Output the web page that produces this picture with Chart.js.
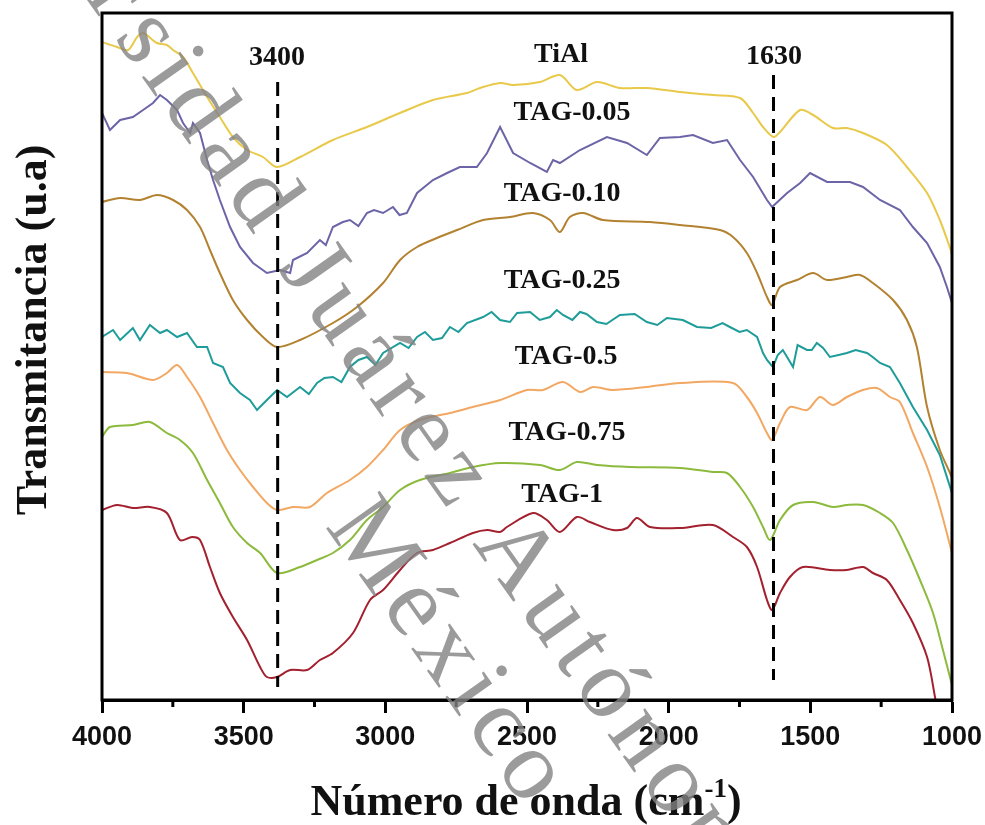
<!DOCTYPE html>
<html>
<head>
<meta charset="utf-8">
<script src="https://cdn.jsdelivr.net/npm/chart.js@4"></script>
<style>
  html, body { margin: 0; padding: 0; background: #fff; }
  #ftir { display: block; }
</style>
</head>
<body>
<canvas id="ftir" width="985" height="825"></canvas>
<script>
// ---- FTIR spectra (transmittance, arbitrary units, offset per sample) ----
const tialWn = [4000, 3947, 3908, 3876, 3855, 3806, 3771, 3749, 3714, 3679, 3629, 3584, 3538, 3488, 3432, 3382, 3301, 3185, 3065, 2948, 2832, 2712, 2666, 2595, 2549, 2454, 2384, 2324, 2253, 2172, 2077, 1960, 1844, 1748, 1702, 1667, 1630, 1607, 1536, 1490, 1420, 1371, 1314, 1230, 1159, 1088, 1043, 1007, 1000];
const tialT  = [658, 653, 650, 663, 667, 657, 655, 650, 643, 627, 603, 583, 563, 550, 543, 533, 543, 560, 573, 587, 600, 607, 612, 617, 615, 618, 625, 610, 618, 612, 612, 608, 605, 602, 587, 573, 563, 568, 590, 585, 572, 572, 567, 555, 533, 507, 480, 452, 445];

const tag005Wn = [4000, 3972, 3936, 3891, 3855, 3820, 3795, 3771, 3735, 3714, 3689, 3679, 3654, 3629, 3608, 3584, 3548, 3513, 3467, 3418, 3372, 3336, 3326, 3276, 3231, 3210, 3185, 3150, 3125, 3095, 3065, 3040, 3008, 2973, 2950, 2924, 2888, 2832, 2782, 2737, 2677, 2641, 2595, 2549, 2489, 2430, 2408, 2384, 2313, 2218, 2147, 2077, 2031, 1960, 1914, 1844, 1794, 1748, 1702, 1653, 1635, 1582, 1536, 1501, 1441, 1360, 1314, 1254, 1184, 1138, 1088, 1043, 1018, 1000];
const tag005T  = [587, 570, 580, 583, 590, 597, 605, 600, 590, 577, 567, 577, 567, 540, 520, 500, 473, 453, 437, 427, 430, 427, 440, 447, 460, 455, 473, 478, 480, 474, 487, 490, 487, 493, 485, 487, 507, 520, 527, 533, 533, 547, 573, 547, 537, 528, 540, 537, 550, 563, 557, 545, 562, 563, 565, 557, 560, 540, 523, 500, 493, 507, 517, 527, 518, 518, 513, 500, 490, 473, 457, 433, 413, 397];

const tag010Wn = [4000, 3936, 3866, 3806, 3749, 3700, 3654, 3619, 3584, 3538, 3488, 3432, 3382, 3301, 3185, 3100, 3008, 2948, 2888, 2818, 2747, 2655, 2560, 2479, 2419, 2384, 2349, 2302, 2232, 2066, 1960, 1819, 1773, 1724, 1688, 1653, 1635, 1607, 1547, 1490, 1441, 1371, 1325, 1279, 1208, 1159, 1124, 1088, 1043, 1007, 1000];
const tag010T  = [498, 502, 500, 505, 500, 490, 473, 450, 427, 400, 380, 363, 353, 360, 377, 393, 417, 440, 453, 462, 470, 480, 483, 487, 480, 468, 483, 487, 480, 478, 475, 470, 463, 447, 427, 403, 395, 413, 420, 427, 420, 423, 425, 417, 400, 380, 353, 293, 250, 227, 222];

const tag025Wn = [4000, 3961, 3936, 3891, 3866, 3831, 3795, 3771, 3735, 3700, 3665, 3629, 3608, 3573, 3548, 3513, 3478, 3453, 3418, 3382, 3347, 3301, 3270, 3241, 3215, 3185, 3155, 3125, 3095, 3065, 3035, 3008, 2948, 2918, 2888, 2860, 2832, 2800, 2772, 2742, 2712, 2655, 2625, 2595, 2560, 2535, 2489, 2455, 2419, 2395, 2373, 2340, 2313, 2290, 2253, 2220, 2172, 2120, 2077, 2040, 2006, 1950, 1900, 1850, 1810, 1784, 1750, 1724, 1688, 1667, 1653, 1632, 1615, 1597, 1580, 1561, 1545, 1512, 1495, 1477, 1455, 1431, 1400, 1371, 1340, 1300, 1280, 1254, 1219, 1184, 1138, 1088, 1043, 1000];
const tag025T  = [363, 370, 360, 372, 360, 375, 367, 370, 363, 367, 353, 353, 337, 333, 317, 307, 300, 290, 300, 310, 303, 313, 306, 317, 322, 323, 318, 333, 340, 343, 335, 347, 357, 352, 363, 368, 360, 362, 373, 368, 377, 383, 388, 380, 378, 387, 388, 380, 383, 390, 385, 380, 388, 386, 378, 376, 385, 386, 378, 375, 382, 380, 373, 372, 377, 373, 368, 370, 363, 347, 340, 333, 345, 350, 342, 333, 355, 350, 350, 357, 352, 343, 345, 347, 350, 347, 343, 337, 333, 317, 293, 270, 245, 207];

const tag05Wn = [4000, 3912, 3820, 3771, 3735, 3700, 3654, 3608, 3559, 3513, 3467, 3418, 3382, 3326, 3266, 3206, 3125, 3065, 3008, 2948, 2878, 2772, 2691, 2595, 2500, 2444, 2373, 2313, 2267, 2197, 2077, 1960, 1773, 1724, 1688, 1653, 1635, 1607, 1572, 1512, 1466, 1420, 1371, 1314, 1265, 1219, 1184, 1138, 1088, 1043, 1000];
const tag05T  = [328, 327, 320, 327, 335, 323, 303, 277, 250, 230, 213, 197, 190, 193, 193, 207, 220, 233, 250, 270, 280, 287, 293, 300, 310, 310, 318, 308, 313, 310, 313, 317, 317, 303, 287, 267, 260, 277, 293, 290, 303, 295, 303, 310, 312, 303, 298, 267, 233, 193, 147];

const tag075Wn = [4000, 3972, 3891, 3831, 3771, 3725, 3679, 3629, 3584, 3538, 3488, 3442, 3382, 3301, 3241, 3185, 3125, 3065, 3008, 2948, 2878, 2772, 2691, 2595, 2454, 2384, 2324, 2253, 2137, 1960, 1844, 1794, 1748, 1702, 1667, 1642, 1607, 1561, 1490, 1420, 1371, 1314, 1254, 1208, 1159, 1113, 1067, 1032, 1000];
const tag075T  = [263, 273, 275, 278, 267, 260, 247, 220, 197, 173, 157, 147, 127, 133, 140, 147, 160, 180, 193, 210, 220, 227, 233, 237, 235, 230, 238, 235, 233, 232, 228, 227, 213, 193, 173, 160, 180, 195, 198, 193, 195, 195, 187, 177, 150, 120, 87, 50, 15];

const tag1Wn = [4000, 3947, 3891, 3831, 3771, 3725, 3682, 3654, 3619, 3584, 3538, 3488, 3442, 3418, 3382, 3336, 3276, 3231, 3185, 3114, 3054, 3008, 2948, 2888, 2832, 2772, 2691, 2641, 2595, 2571, 2479, 2430, 2384, 2324, 2278, 2197, 2147, 2112, 2066, 1960, 1844, 1773, 1724, 1688, 1653, 1635, 1607, 1572, 1526, 1431, 1371, 1314, 1279, 1230, 1184, 1138, 1088, 1060, 1040];
const tag1T  = [190, 195, 192, 193, 187, 160, 163, 160, 133, 107, 83, 60, 33, 23, 23, 30, 30, 40, 47, 67, 100, 110, 130, 147, 150, 157, 167, 170, 168, 173, 187, 180, 168, 183, 178, 170, 172, 182, 173, 172, 175, 163, 153, 133, 100, 90, 107, 123, 133, 130, 130, 133, 127, 120, 100, 77, 43, 3, -30];

const seriesNames  = ['TiAl', 'TAG-0.05', 'TAG-0.10', 'TAG-0.25', 'TAG-0.5', 'TAG-0.75', 'TAG-1'];
const seriesColors = ['#E8C94A', '#6B64A6', '#B38230', '#1E9C99', '#F2A862', '#8CBA3C', '#A3202E'];
const seriesWn = [tialWn, tag005Wn, tag010Wn, tag025Wn, tag05Wn, tag075Wn, tag1Wn];
const seriesT  = [tialT, tag005T, tag010T, tag025T, tag05T, tag075T, tag1T];
const seriesTension = [0.3, 0, 0.3, 0, 0.3, 0.3, 0.3];

// ---- annotations ----
const bandWn = [3380, 1630];
const bandTop = [618, 625];
const bandBottom = [13, 20];

const labelText = ['3400', 'TiAl', '1630', 'TAG-0.05', 'TAG-0.10', 'TAG-0.25', 'TAG-0.5', 'TAG-0.75', 'TAG-1'];
const labelWn   = [3382, 2380, 1628, 2341, 2376, 2376, 2362, 2359, 2376];
const labelT    = [642, 645, 643, 587, 506, 419, 343, 267, 205];

const minorTicks = [3750, 3250, 2750, 2250, 1750, 1250];

function pts(xs, ys) { return xs.map((x, i) => ({ x, y: ys[i] })); }

const datasets = [];
bandWn.forEach((wn, i) => {
  datasets.push({
    data: pts([wn, wn], [bandTop[i], bandBottom[i]]),
    borderColor: '#000', borderWidth: 3, borderDash: [14, 8],
    pointRadius: 0, fill: false
  });
});
seriesNames.forEach((name, i) => {
  datasets.push({
    label: name,
    data: pts(seriesWn[i], seriesT[i]),
    borderColor: seriesColors[i], borderWidth: 2,
    pointRadius: 0, fill: false, tension: seriesTension[i]
  });
});

// ---- plugins: frame, minor ticks, text ----
const framePlugin = {
  id: 'frame',
  afterDatasetsDraw(chart) {
    const { ctx, chartArea: a, scales: { x, y } } = chart;
    ctx.save();
    ctx.strokeStyle = '#000';
    ctx.lineWidth = 3;
    ctx.strokeRect(a.left, a.top, a.right - a.left, a.bottom - a.top);

    // minor ticks
    minorTicks.forEach(v => {
      const px = x.getPixelForValue(v);
      ctx.beginPath();
      ctx.moveTo(px, a.bottom);
      ctx.lineTo(px, a.bottom + 7);
      ctx.stroke();
    });

    // series labels
    ctx.fillStyle = '#111';
    ctx.font = 'bold 28px "Liberation Serif"';
    ctx.textAlign = 'center';
    ctx.textBaseline = 'middle';
    labelText.forEach((t, i) => {
      ctx.fillText(t, x.getPixelForValue(labelWn[i]), y.getPixelForValue(labelT[i]));
    });
    ctx.restore();
  },
  afterDraw(chart) {
    const { ctx } = chart;
    ctx.save();
    ctx.fillStyle = '#111';
    ctx.font = 'bold 44px "Liberation Serif"';
    ctx.textBaseline = 'alphabetic';

    // y title
    ctx.save();
    ctx.translate(46, 330);
    ctx.rotate(-Math.PI / 2);
    ctx.textAlign = 'center';
    ctx.fillText('Transmitancia (u.a)', 0, 0);
    ctx.restore();

    // x title with superscript
    const main = 'Número de onda (cm';
    const sup = '-1';
    const close = ')';
    const wMain = ctx.measureText(main).width;
    const wClose = ctx.measureText(close).width;
    ctx.font = 'bold 27px "Liberation Serif"';
    const wSup = ctx.measureText(sup).width;
    let x0 = 526 - (wMain + wSup + wClose) / 2;
    ctx.textAlign = 'left';
    ctx.font = 'bold 44px "Liberation Serif"';
    ctx.fillText(main, x0, 815);
    ctx.font = 'bold 27px "Liberation Serif"';
    ctx.fillText(sup, x0 + wMain, 797);
    ctx.font = 'bold 44px "Liberation Serif"';
    ctx.fillText(close, x0 + wMain + wSup, 815);
    ctx.restore();

    // watermark
    ctx.save();
    ctx.fillStyle = 'rgba(130,130,130,0.8)';
    ctx.font = '100px "Liberation Serif"';
    ctx.letterSpacing = '8px';
    ctx.textBaseline = 'middle';
    const ang = 54.7 * Math.PI / 180;
    ctx.save();
    ctx.translate(135, 22);
    ctx.rotate(ang);
    ctx.textAlign = 'left';
    ctx.fillText('sidad Juárez Autónoma', 0, 0);
    ctx.textAlign = 'right';
    ctx.fillText('Univer', -8, 0);
    ctx.restore();
    ctx.save();
    ctx.translate(346, 511);
    ctx.rotate(ang);
    ctx.textAlign = 'left';
    ctx.fillText('México', 0, 0);
    ctx.restore();
    ctx.restore();
  }
};

new Chart(document.getElementById('ftir'), {
  type: 'line',
  data: { datasets },
  options: {
    responsive: false,
    animation: false,
    devicePixelRatio: 1,
    layout: { padding: { left: 102, top: 13, right: 33, bottom: 0 } },
    plugins: { legend: { display: false }, tooltip: { enabled: false } },
    scales: {
      x: {
        type: 'linear',
        reverse: true,
        min: 1000,
        max: 4000,
        afterFit: s => { s.height = 125; s.paddingLeft = 0; s.paddingRight = 0; },
        ticks: {
          stepSize: 500,
          color: '#111',
          padding: 8,
          font: { family: 'Liberation Sans', weight: 'bold', size: 27 },
          callback: v => String(v),
          maxRotation: 0
        },
        grid: { drawOnChartArea: false, drawTicks: true, tickLength: 13, tickWidth: 3, tickColor: '#000' },
        border: { display: true, width: 3, color: '#000' }
      },
      y: { display: false, min: 0, max: 687 }
    }
  },
  plugins: [framePlugin]
});
</script>
</body>
</html>
